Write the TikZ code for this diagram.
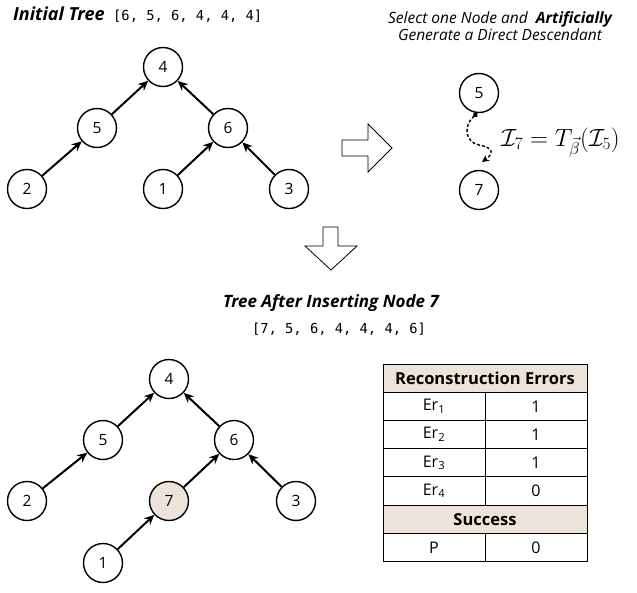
\documentclass[tikz,border=0pt]{standalone}
\usepackage{fontspec}
\setmainfont{Open Sans}
\setmonofont{DejaVu Sans Mono}
\usetikzlibrary{arrows.meta}
\definecolor{paper}{RGB}{236,228,218}

\begin{document}
\begin{tikzpicture}[x=1pt,y=-1pt,
  tnode/.style={circle, draw, line width=1.4pt, minimum size=39pt, inner sep=0pt,
                font=\fontsize{15.5}{18}\selectfont},
  edge/.style={line width=2pt, -{Stealth[length=10pt,width=9pt]}},
  cell/.style={draw, line width=1pt, minimum width=102pt, minimum height=28.2pt,
               inner sep=0pt, outer sep=0pt, font=\fontsize{16}{18}\selectfont},
  wide/.style={cell, minimum width=204pt, fill=paper, font=\fontsize{16.5}{18}\selectfont\bfseries},
  hollow/.style={draw, line width=0.8pt, fill=white, line join=miter},
  title/.style={inner sep=0pt, anchor=base, font=\fontsize{17}{19}\selectfont\bfseries\itshape},
  seq/.style={inner sep=0pt, anchor=base, font=\fontsize{13.75}{16}\selectfont\ttfamily},
]
\useasboundingbox (0,0) rectangle (637,592);

% ---------- initial tree ----------
\node[title, anchor=base west, font=\fontsize{18}{20}\selectfont\bfseries\itshape] (t1) at (13,20) {Initial Tree};
\node[seq, anchor=base west] (s1) at (113,20) {[6, 5, 6, 4, 4, 4]};

\node[tnode] (a4) at (163,67) {4};
\node[tnode] (a5) at (97,128) {5};
\node[tnode] (a6) at (228,128) {6};
\node[tnode] (a2) at (27,189) {2};
\node[tnode] (a1) at (163,189) {1};
\node[tnode] (a3) at (289,189) {3};
\draw[edge] (a5) -- (a4);
\draw[edge] (a6) -- (a4);
\draw[edge] (a2) -- (a5);
\draw[edge] (a1) -- (a6);
\draw[edge] (a3) -- (a6);

% ---------- hollow arrows ----------
\draw[hollow] (342,140) -- (368,140) -- (368,124) -- (392,148) -- (368,172)
              -- (368,156) -- (342,156) -- cycle;
\draw[hollow] (323,227) -- (338,227) -- (338,246) -- (357,246) -- (331,270)
              -- (305,246) -- (323,246) -- cycle;

% ---------- generated descendant ----------
\node[inner sep=0pt, align=center, font=\fontsize{15.5}{17.5}\selectfont\itshape] (sel) at (500,26)
  {Select one Node and \ \textbf{Artificially}\\Generate a Direct Descendant};
\node[tnode] (g5) at (479,93) {5};
\node[tnode] (g7) at (479,190) {7};
\coordinate (gtip) at (482,162);
\draw[line width=1.4pt, dash pattern=on 3pt off 2pt,
      {Circle[length=5pt]}-{Stealth[length=7pt,width=7pt]}]
  (g5.-95) .. controls (463,126) and (465,142) .. (479,145)
           .. controls (495,148) and (493,154) .. (gtip);
\node[inner sep=0pt, anchor=base west, font=\fontsize{26}{28}\selectfont] (eq) at (501,146)
  {$\mathcal{I}_7 = T_{\vec{\beta}}(\mathcal{I}_5)$};

% ---------- tree after insertion ----------
\node[title] (t2) at (331,307) {Tree After Inserting Node 7};
\node[seq] (s2) at (339,333) {[7, 5, 6, 4, 4, 4, 6]};

\node[tnode] (b4) at (169,379) {4};
\node[tnode] (b5) at (103,440) {5};
\node[tnode] (b6) at (234,440) {6};
\node[tnode] (b2) at (27,501) {2};
\node[tnode, fill=paper] (b7) at (169,501) {7};
\node[tnode] (b3) at (296,501) {3};
\node[tnode] (b1) at (103,563) {1};
\draw[edge] (b5) -- (b4);
\draw[edge] (b6) -- (b4);
\draw[edge] (b2) -- (b5);
\draw[edge] (b7) -- (b6);
\draw[edge] (b3) -- (b6);
\draw[edge] (b1) -- (b7);

% ---------- error table ----------
\node[wide] (hdr) at (485,378.1) {Reconstruction Errors};
\node[cell] (e1l) at (434,406.3) {Er\textsubscript{1}};
\node[cell] (e1r) at (536,406.3) {1};
\node[cell] (e2l) at (434,434.5) {Er\textsubscript{2}};
\node[cell] (e2r) at (536,434.5) {1};
\node[cell] (e3l) at (434,462.7) {Er\textsubscript{3}};
\node[cell] (e3r) at (536,462.7) {1};
\node[cell] (e4l) at (434,490.9) {Er\textsubscript{4}};
\node[cell] (e4r) at (536,490.9) {0};
\node[wide] (suc) at (485,519.1) {Success};
\node[cell] (pl) at (434,547.3) {P};
\node[cell] (pr) at (536,547.3) {0};
\end{tikzpicture}
\end{document}
